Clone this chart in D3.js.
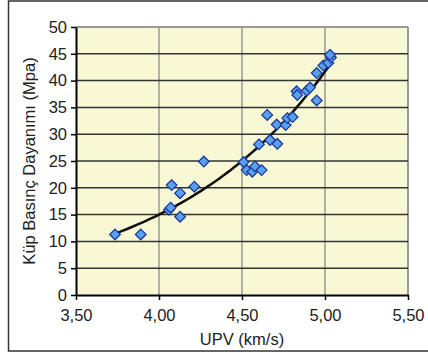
<!DOCTYPE html>
<html>
<head>
<meta charset="utf-8">
<script src="https://cdn.jsdelivr.net/npm/d3@7"></script>
<style>
  body { margin: 0; background: #fff; }
  svg { display: block; font-family: "Liberation Sans", Arial, sans-serif; }
</style>
</head>
<body>
<div id="chart"></div>
<script>
// UPV (km/s) vs cube compressive strength (MPa)
const upv = [3.735, 3.89, 4.06, 4.07, 4.076, 4.127, 4.127, 4.213, 4.27,
  4.51, 4.528, 4.562, 4.578, 4.618, 4.602, 4.669, 4.713, 4.652, 4.709,
  4.763, 4.773, 4.805, 4.829, 4.833, 4.89, 4.91, 4.95, 4.95, 4.99, 5.02, 5.036, 5.03];
const strength = [11.3, 11.3, 15.9, 16.3, 20.5, 19.0, 14.6, 20.2, 24.9,
  24.8, 23.3, 23.0, 24.0, 23.3, 28.1, 28.9, 28.2, 33.6, 31.8,
  31.7, 33.0, 33.2, 38.0, 37.3, 38.1, 38.7, 36.3, 41.4, 42.8, 43.3, 44.3, 44.8];
const xTicks = [3.5, 4.0, 4.5, 5.0, 5.5];
const yTicks = [0, 5, 10, 15, 20, 25, 30, 35, 40, 45, 50];

const width = 428, height = 353;
const margin = {left: 76, top: 27, right: 20, bottom: 58};

const svg = d3.select("#chart").append("svg")
  .attr("width", width)
  .attr("height", height);

// outer chart frame (right edge runs off the picture)
svg.append("rect")
  .attr("x", 8.5).attr("y", 1)
  .attr("width", 440).attr("height", 350)
  .attr("fill", "#fff")
  .attr("stroke", "#333").attr("stroke-width", 1.5);

const x = d3.scaleLinear().domain([3.5, 5.5]).range([margin.left, width - margin.right]);
const y = d3.scaleLinear().domain([0, 50]).range([height - margin.bottom, margin.top]);

svg.append("rect")
  .attr("x", x(3.5)).attr("y", y(50))
  .attr("width", x(5.5) - x(3.5)).attr("height", y(0) - y(50))
  .attr("fill", "#f9f8d4");

// vertical grid (gray)
svg.append("g").selectAll("line")
  .data(xTicks.slice(1))
  .join("line")
  .attr("x1", d => x(d)).attr("x2", d => x(d))
  .attr("y1", y(50)).attr("y2", y(0))
  .attr("stroke", "#999").attr("stroke-width", d => d === 5.5 ? 2 : 1.5);

// horizontal grid (dark)
svg.append("g").selectAll("line")
  .data(yTicks.slice(1))
  .join("line")
  .attr("x1", x(3.5)).attr("x2", x(5.5))
  .attr("y1", d => y(d)).attr("y2", d => y(d))
  .attr("stroke", d => d === 50 ? "#999" : "#333").attr("stroke-width", d => d === 50 ? 2 : 1.5);

// axes
const xAxis = svg.append("g")
  .attr("transform", `translate(0,${y(0)})`)
  .call(d3.axisBottom(x).tickValues(xTicks).tickSize(5).tickSizeOuter(0)
    .tickFormat(d => d3.format(".2f")(d).replace(".", ",")));
const yAxis = svg.append("g")
  .attr("transform", `translate(${x(3.5)},0)`)
  .call(d3.axisLeft(y).tickValues(yTicks).tickSize(5).tickSizeOuter(0));

[xAxis, yAxis].forEach(g => {
  g.select(".domain").attr("stroke", "#000").attr("stroke-width", 2);
  g.selectAll(".tick line").attr("stroke", "#000").attr("stroke-width", 1.5);
  g.selectAll("text").attr("fill", "#222").style("font-size", "16.5px")
    .style("font-family", "'Liberation Sans', Arial, sans-serif");
});
xAxis.selectAll("text").attr("dy", "1.05em").attr("y", 9);
yAxis.selectAll("text").attr("x", -9);

// exponential trend line fitted to the points (as the spreadsheet does)
const n = upv.length;
const lnY = strength.map(Math.log);
const mx = d3.mean(upv), my = d3.mean(lnY);
let sxy = 0, sxx = 0;
for (let i = 0; i < n; i++) {
  sxy += (upv[i] - mx) * (lnY[i] - my);
  sxx += (upv[i] - mx) * (upv[i] - mx);
}
const b = sxy / sxx, a = Math.exp(my - b * mx);
const xs = d3.range(0, 61).map(i => d3.min(upv) + (d3.max(upv) - d3.min(upv)) * i / 60);

svg.append("path")
  .datum(xs)
  .attr("fill", "none")
  .attr("stroke", "#111")
  .attr("stroke-width", 2.5)
  .attr("d", d3.line().x(d => x(d)).y(d => y(a * Math.exp(b * d))));

// points
const diamond = d3.symbol().type(d3.symbolDiamond2).size(72);
svg.append("g").selectAll("path")
  .data(upv.map((v, i) => [v, strength[i]]))
  .join("path")
  .attr("transform", d => `translate(${x(d[0])},${y(d[1])})`)
  .attr("d", diamond)
  .attr("fill", "#5b9ff0")
  .attr("stroke", "#1a3a9a")
  .attr("stroke-width", 1.3);

// axis titles
svg.append("text")
  .attr("x", x(4.5)).attr("y", 345)
  .attr("text-anchor", "middle")
  .attr("fill", "#222")
  .style("font-size", "16.5px")
  .text("UPV (km/s)");

svg.append("text")
  .attr("transform", `translate(35,${(y(0) + y(50)) / 2}) rotate(-90)`)
  .attr("text-anchor", "middle")
  .attr("fill", "#222")
  .style("font-size", "16.5px")
  .text("Küp Basınç Dayanımı (Mpa)");
</script>
</body>
</html>
